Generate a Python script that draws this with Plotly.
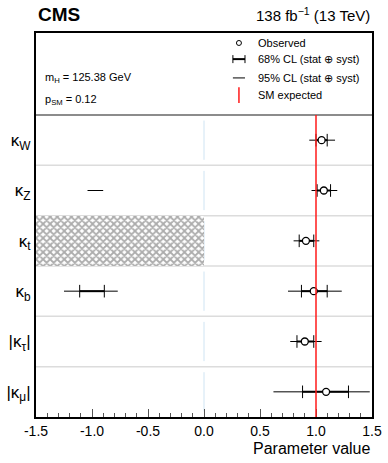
import plotly.graph_objects as go

# Couplings (top to bottom)
labels = ["κ<sub>W</sub>", "κ<sub>Z</sub>", "κ<sub>t</sub>", "κ<sub>b</sub>",
          "|κ<sub>τ</sub>|", "|κ<sub>μ</sub>|"]
best = [1.05, 1.07, 0.91, 0.98, 0.90, 1.09]
lo68 = [1.00, 1.01, 0.85, 0.87, 0.83, 0.88]
hi68 = [1.10, 1.13, 0.98, 1.10, 0.98, 1.29]
lo95 = [0.94, 0.96, 0.80, 0.75, 0.77, 0.62]
hi95 = [1.17, 1.19, 1.03, 1.23, 1.05, 1.48]

# second (negative) minima
neg68_row = ["κ<sub>b</sub>"]
neg68_lo = [-1.11]
neg68_hi = [-0.89]
neg95_row = ["κ<sub>Z</sub>", "κ<sub>b</sub>"]
neg95_lo = [-1.04, -1.25]
neg95_hi = [-0.90, -0.77]

# excluded region for kappa_t
excl_row = "κ<sub>t</sub>"
excl_range = [-1.5, 0.0]

sm_value = 1.0
m_h = "125.38"
p_sm = "0.12"

FONT = "Liberation Sans, Arial, sans-serif"
n = len(labels)
ypos = {lab: n - 0.5 - i for i, lab in enumerate(labels)}
ytop = n + 82 / 50.33


def segs(row, lo, hi):
    xs, ys = [], []
    for r, a, b in zip(row, lo, hi):
        xs += [a, b, None]
        ys += [ypos[r], ypos[r], None]
    return xs, ys


fig = go.Figure()

# hatched excluded region
fig.add_trace(go.Bar(
    x=[excl_range[1] - excl_range[0]], base=[excl_range[0]], y=[ypos[excl_row]],
    orientation="h", width=1,
    marker=dict(color="white", line=dict(width=0),
                pattern=dict(shape="x", fgcolor="#5a5a5a", bgcolor="white",
                             size=5, solidity=0.6)),
    hoverinfo="skip", showlegend=False,
))

# 95% CL
x95, y95 = segs(labels + neg95_row, lo95 + neg95_lo, hi95 + neg95_hi)
fig.add_trace(go.Scatter(x=x95, y=y95, mode="lines",
                         line=dict(color="black", width=1), showlegend=False))

# 68% CL with end caps
x68, y68 = segs(labels + neg68_row, lo68 + neg68_lo, hi68 + neg68_hi)
fig.add_trace(go.Scatter(x=x68, y=y68, mode="lines+markers",
                         line=dict(color="black", width=2),
                         marker=dict(symbol="line-ns", size=9,
                                     line=dict(color="black", width=1)),
                         showlegend=False))

# observed
fig.add_trace(go.Scatter(x=best, y=[ypos[l] for l in labels], mode="markers",
                         marker=dict(symbol="circle", size=7, color="white",
                                     line=dict(color="black", width=1.3)),
                         showlegend=False))

shapes = []
# row separators
for k in range(1, n):
    shapes.append(dict(type="line", xref="paper", x0=0, x1=1, y0=k, y1=k,
                       line=dict(color="#dcdcdc", width=1.5), layer="below"))
shapes.append(dict(type="line", xref="paper", x0=0, x1=1, y0=n, y1=n,
                   line=dict(color="#8c8c8c", width=2)))
# light zero line segments
for lab in labels:
    shapes.append(dict(type="line", x0=0, x1=0, y0=ypos[lab] - 0.39,
                       y1=ypos[lab] + 0.39,
                       line=dict(color="#cfe4f3", width=1), layer="below"))
# SM expectation
shapes.append(dict(type="line", x0=sm_value, x1=sm_value, y0=0, y1=n,
                   line=dict(color="#ff1a1a", width=1.5)))

# legend symbols (paper coords)
lx = 0.604
shapes.append(dict(type="circle", xref="paper", yref="paper",
                   xsizemode="pixel", ysizemode="pixel", xanchor=lx, yanchor=0.974,
                   x0=-2.5, x1=2.5, y0=-2.5, y1=2.5, line=dict(color="black", width=1)))
shapes.append(dict(type="line", xref="paper", yref="paper", x0=0.586, x1=0.622,
                   y0=0.932, y1=0.932, line=dict(color="black", width=2)))
for xc in (0.586, 0.622):
    shapes.append(dict(type="line", xref="paper", yref="paper", xsizemode="pixel",
                       ysizemode="pixel", xanchor=xc, yanchor=0.932,
                       x0=0, x1=0, y0=-4, y1=4, line=dict(color="black", width=1)))
shapes.append(dict(type="line", xref="paper", yref="paper", x0=0.586, x1=0.622,
                   y0=0.883, y1=0.883, line=dict(color="black", width=1)))
shapes.append(dict(type="line", xref="paper", yref="paper", x0=lx, x1=lx,
                   y0=0.818, y1=0.859, line=dict(color="#ff1a1a", width=1.5)))

annotations = [
    dict(text="<b>CMS</b>", x=0, y=1.047, xref="paper", yref="paper",
         xanchor="left", yanchor="middle", showarrow=False,
         font=dict(size=19, color="black")),
    dict(text="138 fb<sup>−1</sup> (13 TeV)", x=1, y=1.047, xref="paper",
         yref="paper", xanchor="right", yanchor="middle", showarrow=False,
         font=dict(size=15, color="black")),
    dict(text="Parameter value", x=1, y=-0.081, xref="paper", yref="paper",
         xanchor="right", yanchor="middle", showarrow=False,
         font=dict(size=16, color="black")),
    dict(text=f"m<sub>H</sub> = {m_h} GeV", x=0.021, y=0.883, xref="paper",
         yref="paper", xanchor="left", yanchor="middle", showarrow=False,
         font=dict(size=11, color="black")),
    dict(text=f"p<sub>SM</sub> = {p_sm}", x=0.021, y=0.826, xref="paper",
         yref="paper", xanchor="left", yanchor="middle", showarrow=False,
         font=dict(size=11, color="black")),
]
for txt, yy in [("Observed", 0.974), ("68% CL (stat ⊕ syst)", 0.932),
                ("95% CL (stat ⊕ syst)", 0.883), ("SM expected", 0.839)]:
    annotations.append(dict(text=txt, x=0.655, y=yy, xref="paper", yref="paper",
                            xanchor="left", yanchor="middle", showarrow=False,
                            font=dict(size=11, color="black")))

xticks = [-1.5, -1.0, -0.5, 0.0, 0.5, 1.0, 1.5]

fig.update_layout(
    width=388, height=463,
    margin=dict(l=36, r=16, t=33, b=46, autoexpand=False),
    paper_bgcolor="white", plot_bgcolor="white",
    font=dict(family=FONT, color="black"),
    shapes=shapes, annotations=annotations,
    bargap=0, showlegend=False,
)
fig.update_xaxes(
    range=[-1.5, 1.5], tickvals=xticks, ticktext=[f"{v:.1f}" for v in xticks],
    ticks="inside", ticklen=8, tickwidth=1, tickcolor="#555",
    minor=dict(dtick=0.1, ticks="inside", ticklen=4, tickcolor="#555"),
    showgrid=False, zeroline=False, automargin=False,
    showline=True, linecolor="black", linewidth=2, mirror=True,
    tickfont=dict(size=14),
)
fig.update_yaxes(
    range=[0, ytop], tickvals=[ypos[l] for l in labels], ticktext=labels,
    ticks="", showgrid=False, zeroline=False, automargin=False,
    showline=True, linecolor="black", linewidth=2, mirror=True,
    tickfont=dict(size=17),
)

# drop the default page margin so the figure sits at the window's corner
fig.write_html("out.html", config={"displayModeBar": False},
               post_script="document.body.style.margin = '0';")
